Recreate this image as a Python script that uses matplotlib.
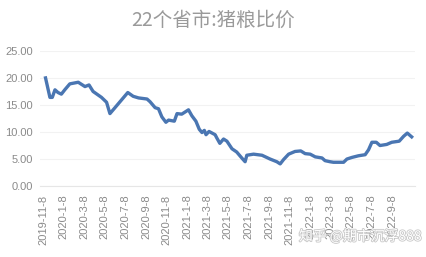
import matplotlib.pyplot as plt
import matplotlib.patheffects as pe
import pandas as pd

plt.rcParams['font.family'] = ['Liberation Sans', 'Noto Sans CJK SC', 'DejaVu Sans']

# Pig/grain price ratio
dates = [
    '2019-11-15', '2019-11-28', '2019-12-05', '2019-12-13', '2019-12-22',
    '2020-01-01', '2020-01-11', '2020-01-26', '2020-02-20', '2020-03-11',
    '2020-03-23', '2020-04-04', '2020-04-29', '2020-05-14', '2020-05-24',
    '2020-06-08', '2020-06-27', '2020-07-16', '2020-08-01', '2020-08-17',
    '2020-09-11', '2020-09-20', '2020-10-05', '2020-10-15', '2020-10-25',
    '2020-11-06', '2020-11-14', '2020-12-01', '2020-12-09', '2020-12-23',
    '2021-01-12', '2021-01-22', '2021-02-03', '2021-02-13', '2021-02-21',
    '2021-02-28', '2021-03-05', '2021-03-14', '2021-03-23', '2021-04-01',
    '2021-04-06', '2021-04-15', '2021-04-26', '2021-05-06', '2021-05-21',
    '2021-06-04', '2021-06-19', '2021-06-29', '2021-07-04', '2021-07-24',
    '2021-08-18', '2021-09-11', '2021-10-01', '2021-10-11', '2021-10-21',
    '2021-11-05', '2021-11-24', '2021-12-11', '2021-12-24', '2022-01-08',
    '2022-01-23', '2022-02-12', '2022-02-21', '2022-03-08', '2022-03-18',
    '2022-04-17', '2022-04-27', '2022-05-12', '2022-05-31', '2022-06-20',
    '2022-06-30', '2022-07-10', '2022-07-23', '2022-08-03', '2022-08-23',
    '2022-09-07', '2022-09-29', '2022-10-12', '2022-10-23', '2022-11-05',
]
ratio = [
    20.0, 16.4, 16.4, 17.8, 17.3,
    17.0, 17.8, 18.9, 19.2, 18.4,
    18.7, 17.5, 16.4, 15.5, 13.4,
    14.5, 15.9, 17.3, 16.6, 16.3,
    16.1, 15.6, 14.5, 14.3, 12.8,
    11.8, 12.2, 12.0, 13.4, 13.3,
    14.1, 13.0, 12.0, 10.5, 9.9,
    10.3, 9.5, 10.1, 9.8, 9.5,
    8.9, 7.9, 8.7, 8.3, 6.9,
    6.3, 5.2, 4.5, 5.7, 5.9,
    5.7, 5.0, 4.5, 4.1, 4.9,
    5.9, 6.4, 6.5, 6.0, 5.9,
    5.4, 5.2, 4.7, 4.5, 4.4,
    4.4, 5.0, 5.3, 5.6, 5.8,
    6.7, 8.1, 8.1, 7.5, 7.7,
    8.1, 8.3, 9.2, 9.8, 9.1,
]
tick_labels = [
    '2019-11-8', '2020-1-8', '2020-3-8', '2020-5-8', '2020-7-8', '2020-9-8',
    '2020-11-8', '2021-1-8', '2021-3-8', '2021-5-8', '2021-7-8', '2021-9-8',
    '2021-11-8', '2022-1-8', '2022-3-8', '2022-5-8', '2022-7-8', '2022-9-8',
]
yticks = [0, 5, 10, 15, 20, 25]

x = pd.to_datetime(dates)
tick_dates = pd.to_datetime(tick_labels)

fig = plt.figure(figsize=(4.27, 2.57), dpi=100)
ax = fig.add_axes([0.094, 0.276, 0.878, 0.526])
ax.plot(x, ratio, color='#4a76b2', lw=2.4, solid_joinstyle='round')

ax.set_ylim(0, 25)
ax.set_yticks(yticks)
ax.set_yticklabels([f'{v:.2f}' for v in yticks])
ax.set_xlim(pd.Timestamp('2019-10-30'), pd.Timestamp('2022-11-15'))
ax.set_xticks(tick_dates)
ax.set_xticklabels(tick_labels, rotation=90)
ax.tick_params(length=0, labelsize=8, labelcolor='#8a8a8a', pad=5)
ax.tick_params(axis='x', pad=6)

ax.grid(axis='y', color='#f2f2f2', lw=0.8)
ax.set_axisbelow(True)
for s in ['top', 'right', 'left']:
    ax.spines[s].set_visible(False)
ax.spines['bottom'].set_color('#e6e6e6')

fig.text(0.499, 0.922, '22个省市:猪粮比价', ha='center', va='center',
         fontsize=14, color='#9a9a9a', fontweight='light',
         family=['Noto Sans CJK SC', 'DejaVu Sans'])

# watermark
fig.text(0.7, 0.08, '知乎 @期市沉浮888', ha='left', va='center', fontsize=10,
         color='white', family=['Noto Sans CJK SC', 'DejaVu Sans'],
         path_effects=[pe.withStroke(linewidth=1.2, foreground='#c8c8c8')])

fig.savefig('out.png', dpi=100)
